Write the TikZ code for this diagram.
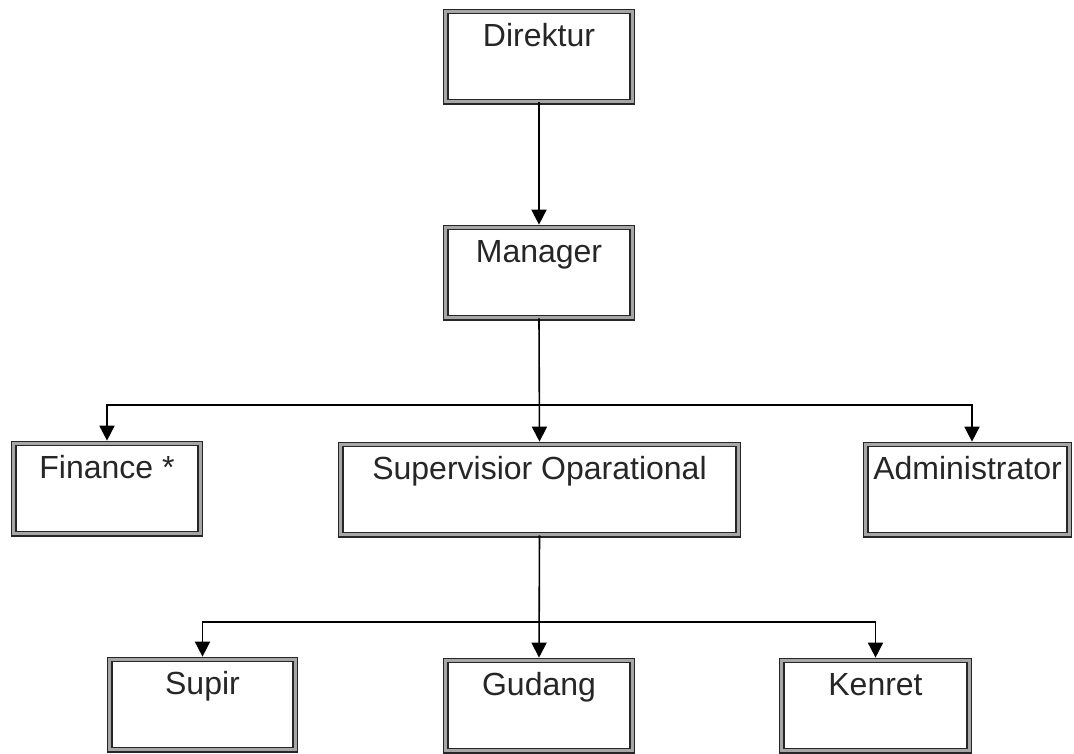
\documentclass[tikz,border=0pt]{standalone}
\usepackage{fontspec}
\setmainfont{Liberation Sans}
\usetikzlibrary{arrows.meta}
\tikzset{
  orgbox/.style={
    draw=black!85, line width=1.3pt, double=black!35, double distance=3pt,
    rectangle, inner xsep=0pt, inner ysep=0pt,
    text height=35.2pt, text depth=55.2pt,
    font=\fontsize{32}{37}\selectfont, text=black!85},
  link/.style={draw=black, line width=1.6pt,
    -{Triangle[length=15pt,width=15pt]}, shorten >=2pt}
}
\begin{document}
\begin{tikzpicture}[x=1pt, y=-1pt]
\useasboundingbox (0,0) rectangle (1074,753);
\fill[white] (0,0) rectangle (1074,753);

% top levels
\node[orgbox, minimum width=186.4pt] (dir) at (539,56.5) {Direktur};
\node[orgbox, minimum width=186.4pt] (man) at (539,272.5) {Manager};

% second level
\node[orgbox, minimum width=186.4pt] (fin) at (107,488.5) {Finance *};
\node[orgbox, minimum width=397.4pt] (sup) at (539.5,489.5) {Supervisior Oparational};
\node[orgbox, minimum width=203.4pt] (adm) at (967.5,489.5) {Administrator};

% third level
\node[orgbox, minimum width=185.4pt] (supir) at (202.5,704.5) {Supir};
\node[orgbox, minimum width=186.4pt] (gud) at (539,705.5) {Gudang};
\node[orgbox, minimum width=187.4pt] (ken) at (875.5,705.5) {Kenret};

% junction points on the horizontal buses
\coordinate (j1) at (539,405);
\coordinate (j2) at (539,622);

% connectors
\draw[link] (dir.south) -- (man.north);
\draw[link] (man.south) -- (sup.north);
\draw[link] (j1) -| (fin.north);
\draw[link] (j1) -| ([xshift=4.5pt]adm.north);
\draw[link] (sup.south) -- (gud.north);
\draw[link] (j2) -| (supir.north);
\draw[link] (j2) -| (ken.north);
\end{tikzpicture}
\end{document}
